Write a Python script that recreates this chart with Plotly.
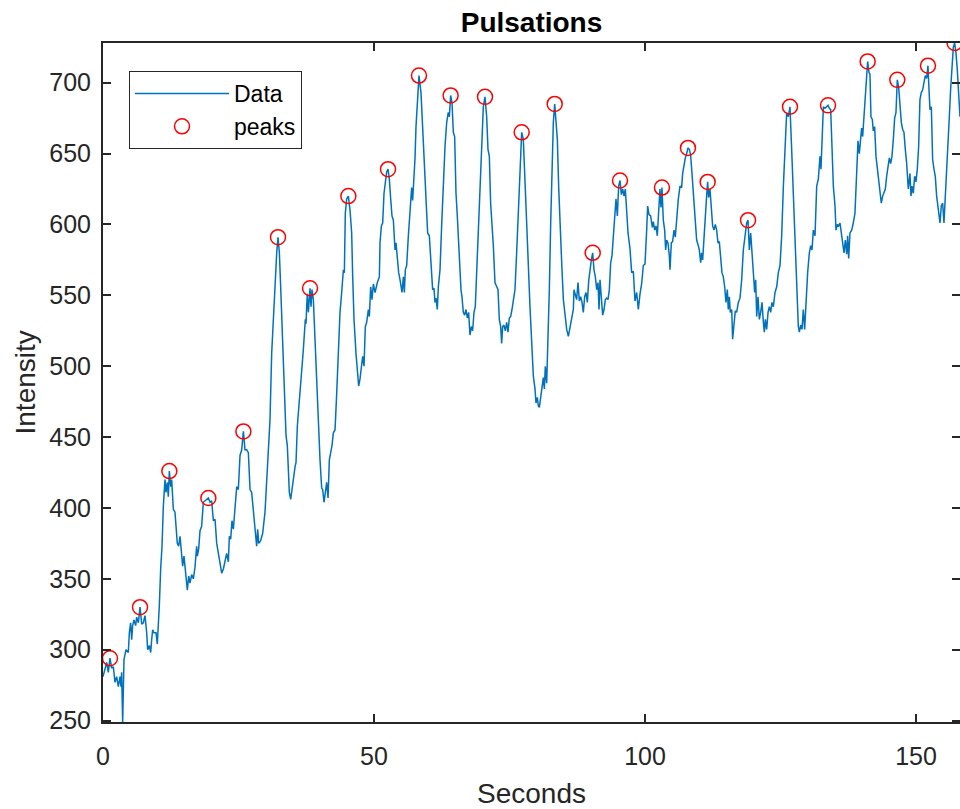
import plotly.graph_objects as go

# Sampled pulsation signal: time (s) and intensity
seconds = [
    0.00, 0.68, 0.98, 1.29, 1.60, 1.91, 2.21, 2.52, 2.83, 3.14, 3.32, 3.44, 3.63, 3.87, 4.24, 4.67,
    4.86, 5.10, 5.29, 5.47, 5.72, 6.03, 6.21, 6.52, 6.83, 7.14, 7.44, 7.75, 8.06, 8.24, 8.55, 8.80,
    8.98, 9.16, 9.41, 9.78, 10.02, 10.21, 10.39, 10.64, 10.89, 11.13, 11.44, 11.62, 11.87, 12.05,
    12.24, 12.49, 12.67, 12.98, 13.28, 13.71, 13.96, 14.21, 14.51, 14.70, 14.94, 15.31, 15.56, 15.81,
    16.05, 16.36, 16.67, 16.97, 17.28, 17.40, 17.65, 17.90, 18.20, 18.51, 18.88,
    19.25, 19.44, 19.75, 20.05, 20.36, 20.67, 20.98, 21.28, 21.59, 21.90, 22.21, 22.51, 22.82, 23.13,
    23.31, 23.56, 23.80, 24.05, 24.36, 24.67, 24.97, 25.28, 25.59, 25.90, 26.20, 26.51, 26.82, 27.13,
    27.43, 27.74, 28.05, 28.35, 28.54, 28.72, 29.09, 29.46, 29.89, 30.20, 30.51, 30.81, 31.12, 31.43,
    31.74, 32.05, 32.29, 32.54, 32.78, 33.15, 33.58, 33.77, 34.01, 34.20, 34.38, 34.63, 34.87, 35.12,
    35.43, 35.61, 35.86, 36.10, 36.35, 36.66, 36.97, 37.33, 37.46, 37.58, 37.70, 37.89,
    38.07, 38.20, 38.38, 38.56, 38.81, 39.12, 39.43, 39.73, 40.04, 40.35, 40.53, 40.78, 41.02, 41.27,
    41.52, 41.76, 42.01, 42.25, 42.50, 42.81, 43.12, 43.42, 43.73, 44.04, 44.35, 44.53, 44.71, 44.96,
    45.27, 45.58, 45.88, 46.07, 46.31, 46.68, 46.93, 47.17, 47.42, 47.67, 47.91, 48.16, 48.40, 48.65,
    48.96, 49.14, 49.39, 49.63, 49.88, 50.19, 50.37, 50.62, 50.99, 51.11, 51.36, 51.60, 51.85, 52.09,
    52.34, 52.59, 52.83, 53.08, 53.32, 53.57, 53.88, 54.06, 54.31, 54.55, 54.80, 54.98, 55.17, 55.42,
    55.60, 55.78, 56.03, 56.34, 56.65,
    56.95, 57.13, 57.38, 57.56, 57.75, 57.99, 58.30, 58.67, 58.98, 59.22, 59.47, 59.72, 59.90, 60.21,
    60.45, 60.64, 60.82, 61.07, 61.25, 61.44, 61.68, 61.87, 62.18, 62.48, 62.79, 63.10, 63.41, 63.71,
    63.90, 64.14, 64.39, 64.64, 64.88, 65.13, 65.37, 65.62, 65.87, 66.05, 66.23, 66.48, 66.73, 66.97,
    67.22, 67.46, 67.71, 67.96, 68.20, 68.45, 68.69, 68.94, 69.25, 69.55, 69.86, 70.17, 70.48, 70.79,
    71.03, 71.28, 71.52, 71.77, 72.02, 72.32, 72.63, 72.88, 73.12, 73.37, 73.55, 73.74, 73.98, 74.23,
    74.48, 74.72, 74.97, 75.21, 75.46, 75.70, 76.01, 76.32, 76.63, 76.93,
    77.25, 77.55, 77.86, 78.17, 78.48, 78.78, 79.09, 79.40, 79.71, 79.89, 80.14, 80.32, 80.51, 80.75,
    80.99, 81.24, 81.43, 81.61, 81.86, 82.11, 82.35, 82.60, 82.84, 83.09, 83.34, 83.58, 83.83, 84.07,
    84.32, 84.63, 84.94, 85.24, 85.55, 85.86, 86.17, 86.47, 86.78, 86.90, 87.15, 87.39, 87.64, 87.89,
    88.13, 88.38, 88.62, 88.87, 89.12, 89.36, 89.61, 89.85, 90.10, 90.35, 90.59, 90.84, 91.09, 91.33,
    91.52, 91.70, 91.95, 92.19, 92.44, 92.68, 92.93, 93.18, 93.42, 93.67, 93.91, 94.16, 94.41, 94.65,
    94.90, 95.14, 95.39, 95.64, 95.88, 96.13, 96.37, 96.62, 96.87,
    97.23, 97.54, 97.85, 98.15, 98.46, 98.77, 99.08, 99.38, 99.69, 100.00, 100.31, 100.49, 100.74,
    101.04, 101.35, 101.54, 101.78, 102.03, 102.27, 102.52, 102.76, 102.95, 103.13, 103.38, 103.63,
    103.81, 104.00, 104.24, 104.49, 104.61, 104.86, 105.10, 105.35, 105.59, 105.84, 106.15, 106.46,
    106.76, 106.95, 107.19, 107.44, 107.69, 107.93, 108.18, 108.42, 108.67, 108.92, 109.22, 109.53,
    109.84, 110.02, 110.27, 110.45, 110.64, 110.88, 111.13, 111.37, 111.56, 111.74, 111.99, 112.24,
    112.48, 112.73, 112.97, 113.22, 113.47, 113.71, 113.96, 114.20, 114.45, 114.70, 114.94, 115.19,
    115.37, 115.56, 115.74, 116.00, 116.17, 116.42, 116.66, 116.91, 117.22,
    117.53, 117.84, 118.14, 118.45, 118.76, 119.01, 119.25, 119.50, 119.74, 119.99, 120.24, 120.42,
    120.61, 120.85, 121.10, 121.34, 121.59, 121.84, 122.02, 122.20, 122.45, 122.70, 122.94, 123.19,
    123.43, 123.68, 123.99, 124.30, 124.60, 124.91, 125.22, 125.53, 125.83, 126.14, 126.45, 126.75,
    127.06, 127.37, 127.68, 127.98, 128.29, 128.48, 128.72, 128.97, 129.21, 129.46, 129.71, 130.01,
    130.32, 130.57, 130.81, 131.06, 131.37, 131.68, 131.98, 132.29, 132.47, 132.66, 132.91, 133.21,
    133.52, 133.77, 134.01, 134.26, 134.50, 134.75, 135.06, 135.24, 135.49, 135.73, 135.98, 136.23,
    136.47, 136.72, 136.96, 137.21, 137.39, 137.58,
    137.82, 138.13, 138.43, 138.74, 139.05, 139.30, 139.54, 139.79, 139.97, 140.16, 140.40, 140.65,
    140.90, 141.08, 141.33, 141.51, 141.69, 141.94, 142.12, 142.37, 142.62, 142.86, 143.11, 143.36,
    143.60, 143.85, 144.09, 144.34, 144.59, 144.83, 145.08, 145.32, 145.57, 145.82, 146.06, 146.31,
    146.55, 146.80, 147.05, 147.29, 147.54, 147.78, 148.03, 148.28, 148.58, 148.89, 149.07, 149.26,
    149.50, 149.75, 150.00, 150.24, 150.49, 150.73, 150.98, 151.23, 151.47, 151.72, 151.97, 152.21,
    152.40, 152.58, 152.83, 153.07, 153.32, 153.56, 153.81, 154.00, 154.18, 154.43, 154.67, 154.92,
    155.16, 155.41, 155.66, 155.90, 156.15, 156.39, 156.64, 156.89, 157.13, 157.38, 157.62, 157.87,
    158.12,
]

intensity = [
    281, 291, 284, 294, 287, 288, 277, 281, 274, 281, 274, 284, 249, 293, 300, 298,
    312, 319, 307, 317, 321, 317, 323, 319, 330, 318, 319, 324, 312, 300, 303, 298,
    307, 314, 312, 312, 304, 317, 331, 357, 373, 401, 420, 411, 418, 408,
    426, 415, 420, 399, 397, 375, 373, 380, 364, 359, 366, 354, 342, 352,
    347, 353, 350, 358, 373, 366, 371, 384, 387, 404, 405,
    406, 407, 404, 405, 391, 392, 375, 368, 359, 354, 357, 364, 368, 362,
    380, 378, 391, 385, 402, 415, 413, 437, 441, 454, 441, 441, 439, 413,
    411, 399, 387, 373, 385, 375, 377, 382, 397, 420, 444, 462, 509, 533,
    561, 580, 591, 580, 556, 514, 474, 451, 444, 420, 411, 406, 415, 420,
    429, 432, 458, 469, 480, 500, 512, 533, 530, 542, 551, 538,
    548, 555, 542, 554, 547, 516, 493, 462, 434, 414, 413, 404, 413, 418,
    407, 434, 439, 444, 453, 455, 481, 509, 538, 552, 568, 566, 608, 618,
    620, 610, 594, 563, 533, 509, 498, 486, 491, 498, 507, 500, 528, 531,
    540, 535, 556, 547, 558, 552, 556, 559, 563, 587, 599, 601, 622, 629,
    637, 639, 632, 618, 606, 603, 582, 587, 575, 566, 561, 556, 552, 563,
    552, 568, 571, 592, 612,
    626, 617, 634, 646, 669, 688, 705, 693, 669, 655, 636, 618, 594, 592,
    575, 561, 554, 555, 545, 548, 540, 556, 568, 599, 629, 655, 672, 679,
    676, 691, 686, 665, 662, 622, 606, 585, 575, 554, 549, 538, 536, 540,
    534, 538, 522, 528, 525, 538, 542, 566, 599, 625, 662, 683, 690, 676,
    653, 648, 615, 603, 585, 559, 556, 554, 533, 528, 516, 528, 529, 525,
    531, 524, 534, 535, 540, 546, 554, 580, 610, 646,
    665, 660, 634, 601, 571, 542, 512, 493, 484, 474, 478, 472, 471, 479,
    488, 492, 484, 500, 488, 519, 554, 601, 648, 672, 685, 675, 660, 627,
    599, 573, 547, 535, 526, 521, 528, 534, 540, 554, 549, 547, 559, 546,
    549, 545, 538, 549, 552, 545, 560, 568, 575, 580, 568, 563, 554, 559,
    540, 561, 549, 536, 540, 547, 548, 547, 554, 573, 578, 592, 599, 618,
    606, 627, 631, 621, 625, 620, 625, 610, 594,
    583, 566, 567, 546, 552, 540, 551, 558, 571, 572, 596, 613, 607,
    606, 598, 602, 596, 599, 592, 608, 625, 612, 626, 603, 596,
    582, 589, 587, 578, 568, 587, 588, 596, 591, 606, 618, 627,
    626, 636, 643, 647, 650, 654, 653, 649, 636, 622, 603, 589,
    585, 582, 573, 580, 575, 592, 608, 620, 630, 619, 625, 610,
    599, 596, 600, 596, 587, 588, 578, 566, 563, 556, 545, 554,
    540, 549, 538, 540, 519, 533, 539, 538, 545,
    548, 561, 582, 592, 601, 603, 582, 594, 582, 571, 552, 561,
    535, 549, 533, 538, 545, 531, 524, 533, 526, 538, 542, 538,
    545, 542, 552, 556, 566, 571, 592, 627, 653, 679, 676, 683,
    653, 620, 587, 559, 528, 524, 529, 526, 540, 526, 547, 566,
    580, 585, 582, 596, 592, 627, 632, 648, 639, 655, 683, 682,
    683, 684, 682, 681, 655, 627, 613, 596, 600, 599, 601, 594,
    587, 580, 589, 579, 592, 576,
    594, 596, 601, 608, 636, 659, 650, 660, 668, 662, 676, 692,
    705, 715, 707, 706, 676, 674, 666, 669, 648, 639, 629, 622,
    615, 620, 622, 625, 634, 641, 647, 643, 648, 660, 675, 679,
    702, 697, 683, 672, 667, 665, 653, 643, 625, 636, 620, 627,
    622, 634, 630, 639, 655, 688, 693, 695, 700, 705, 703, 712,
    695, 681, 683, 646, 639, 634, 620, 615, 608, 601, 613, 615,
    601, 618, 636, 655, 676, 695, 714, 725, 728, 721, 709, 690,
    676,
]

# Times of the detected local maxima
peak_seconds = [
    1.29, 6.83, 12.24, 19.44, 25.90, 32.29, 38.20, 45.27, 52.59, 58.30, 64.14, 70.48, 77.25,
    83.34, 90.35, 95.39, 103.13, 107.93, 111.56, 119.01, 126.75, 133.77, 141.08, 146.55,
    152.21, 157.13,
]

x_ticks = [0, 50, 100, 150]
y_ticks = [250, 300, 350, 400, 450, 500, 550, 600, 650, 700]

peak_idx = [seconds.index(t) for t in peak_seconds]
peak_values = [intensity[i] for i in peak_idx]

AX = "#262626"
FONT = "Liberation Sans, Arial, Helvetica, sans-serif"
y_range = [min(intensity), max(intensity)]

fig = go.Figure()
fig.add_trace(go.Scatter(
    x=seconds, y=intensity, mode="lines", name="Data",
    line=dict(color="#0072BD", width=1.5),
))
fig.add_trace(go.Scatter(
    x=peak_seconds, y=peak_values, mode="markers", name="peaks",
    marker=dict(symbol="circle-open", size=15, color="#FF0000", line=dict(width=1.5, color="#FF0000")),
))
# empty trace that keeps the right-hand tick axis alive
fig.add_trace(go.Scatter(x=[None], y=[None], yaxis="y2", showlegend=False, hoverinfo="skip"))

tick_style = dict(ticks="inside", ticklen=8, tickwidth=1.5, tickcolor=AX)
axis_common = dict(
    showgrid=False, zeroline=False, showline=True, linecolor=AX, linewidth=2,
    tickfont=dict(family=FONT, size=25, color=AX), **tick_style,
)

fig.update_layout(
    xaxis=dict(range=[0, seconds[-1]], tickvals=x_ticks, ticklabelstandoff=11,
               mirror="ticks", **axis_common),
    yaxis=dict(range=y_range, tickvals=y_ticks, ticklabelstandoff=5, mirror=False, **axis_common),
    yaxis2=dict(range=y_range, tickvals=y_ticks, overlaying="y", side="right", anchor="x",
                showgrid=False, zeroline=False, showline=False, showticklabels=False, **tick_style),
)

fig.update_layout(
    width=960, height=809,
    margin=dict(l=103, r=0, t=43, b=87),
    paper_bgcolor="white", plot_bgcolor="white",
    font=dict(family=FONT, color=AX),
    title=dict(
        text="<b>Pulsations</b>", x=0.5, xref="paper", xanchor="center",
        y=1 - 22 / 809, yref="container", yanchor="middle",
        font=dict(family=FONT, size=28, color="black"),
    ),
    legend=dict(
        x=(129 - 103) / 857, y=1 - (71 - 43) / 679, xanchor="left", yanchor="top",
        bgcolor="white", bordercolor=AX, borderwidth=1,
        font=dict(family=FONT, size=23, color="black"),
        itemwidth=94, tracegroupgap=0,
    ),
    annotations=[
        dict(text="Seconds", xref="paper", yref="paper", x=0.5, y=-(793 - 722) / 679,
             xanchor="center", yanchor="middle", showarrow=False,
             font=dict(family=FONT, size=28, color=AX)),
        dict(text="Intensity", xref="paper", yref="paper", x=(25 - 103) / 857, y=0.5,
             xanchor="center", yanchor="middle", textangle=-90, showarrow=False,
             font=dict(family=FONT, size=28, color=AX)),
    ],
)

fig.write_html("out.html")
